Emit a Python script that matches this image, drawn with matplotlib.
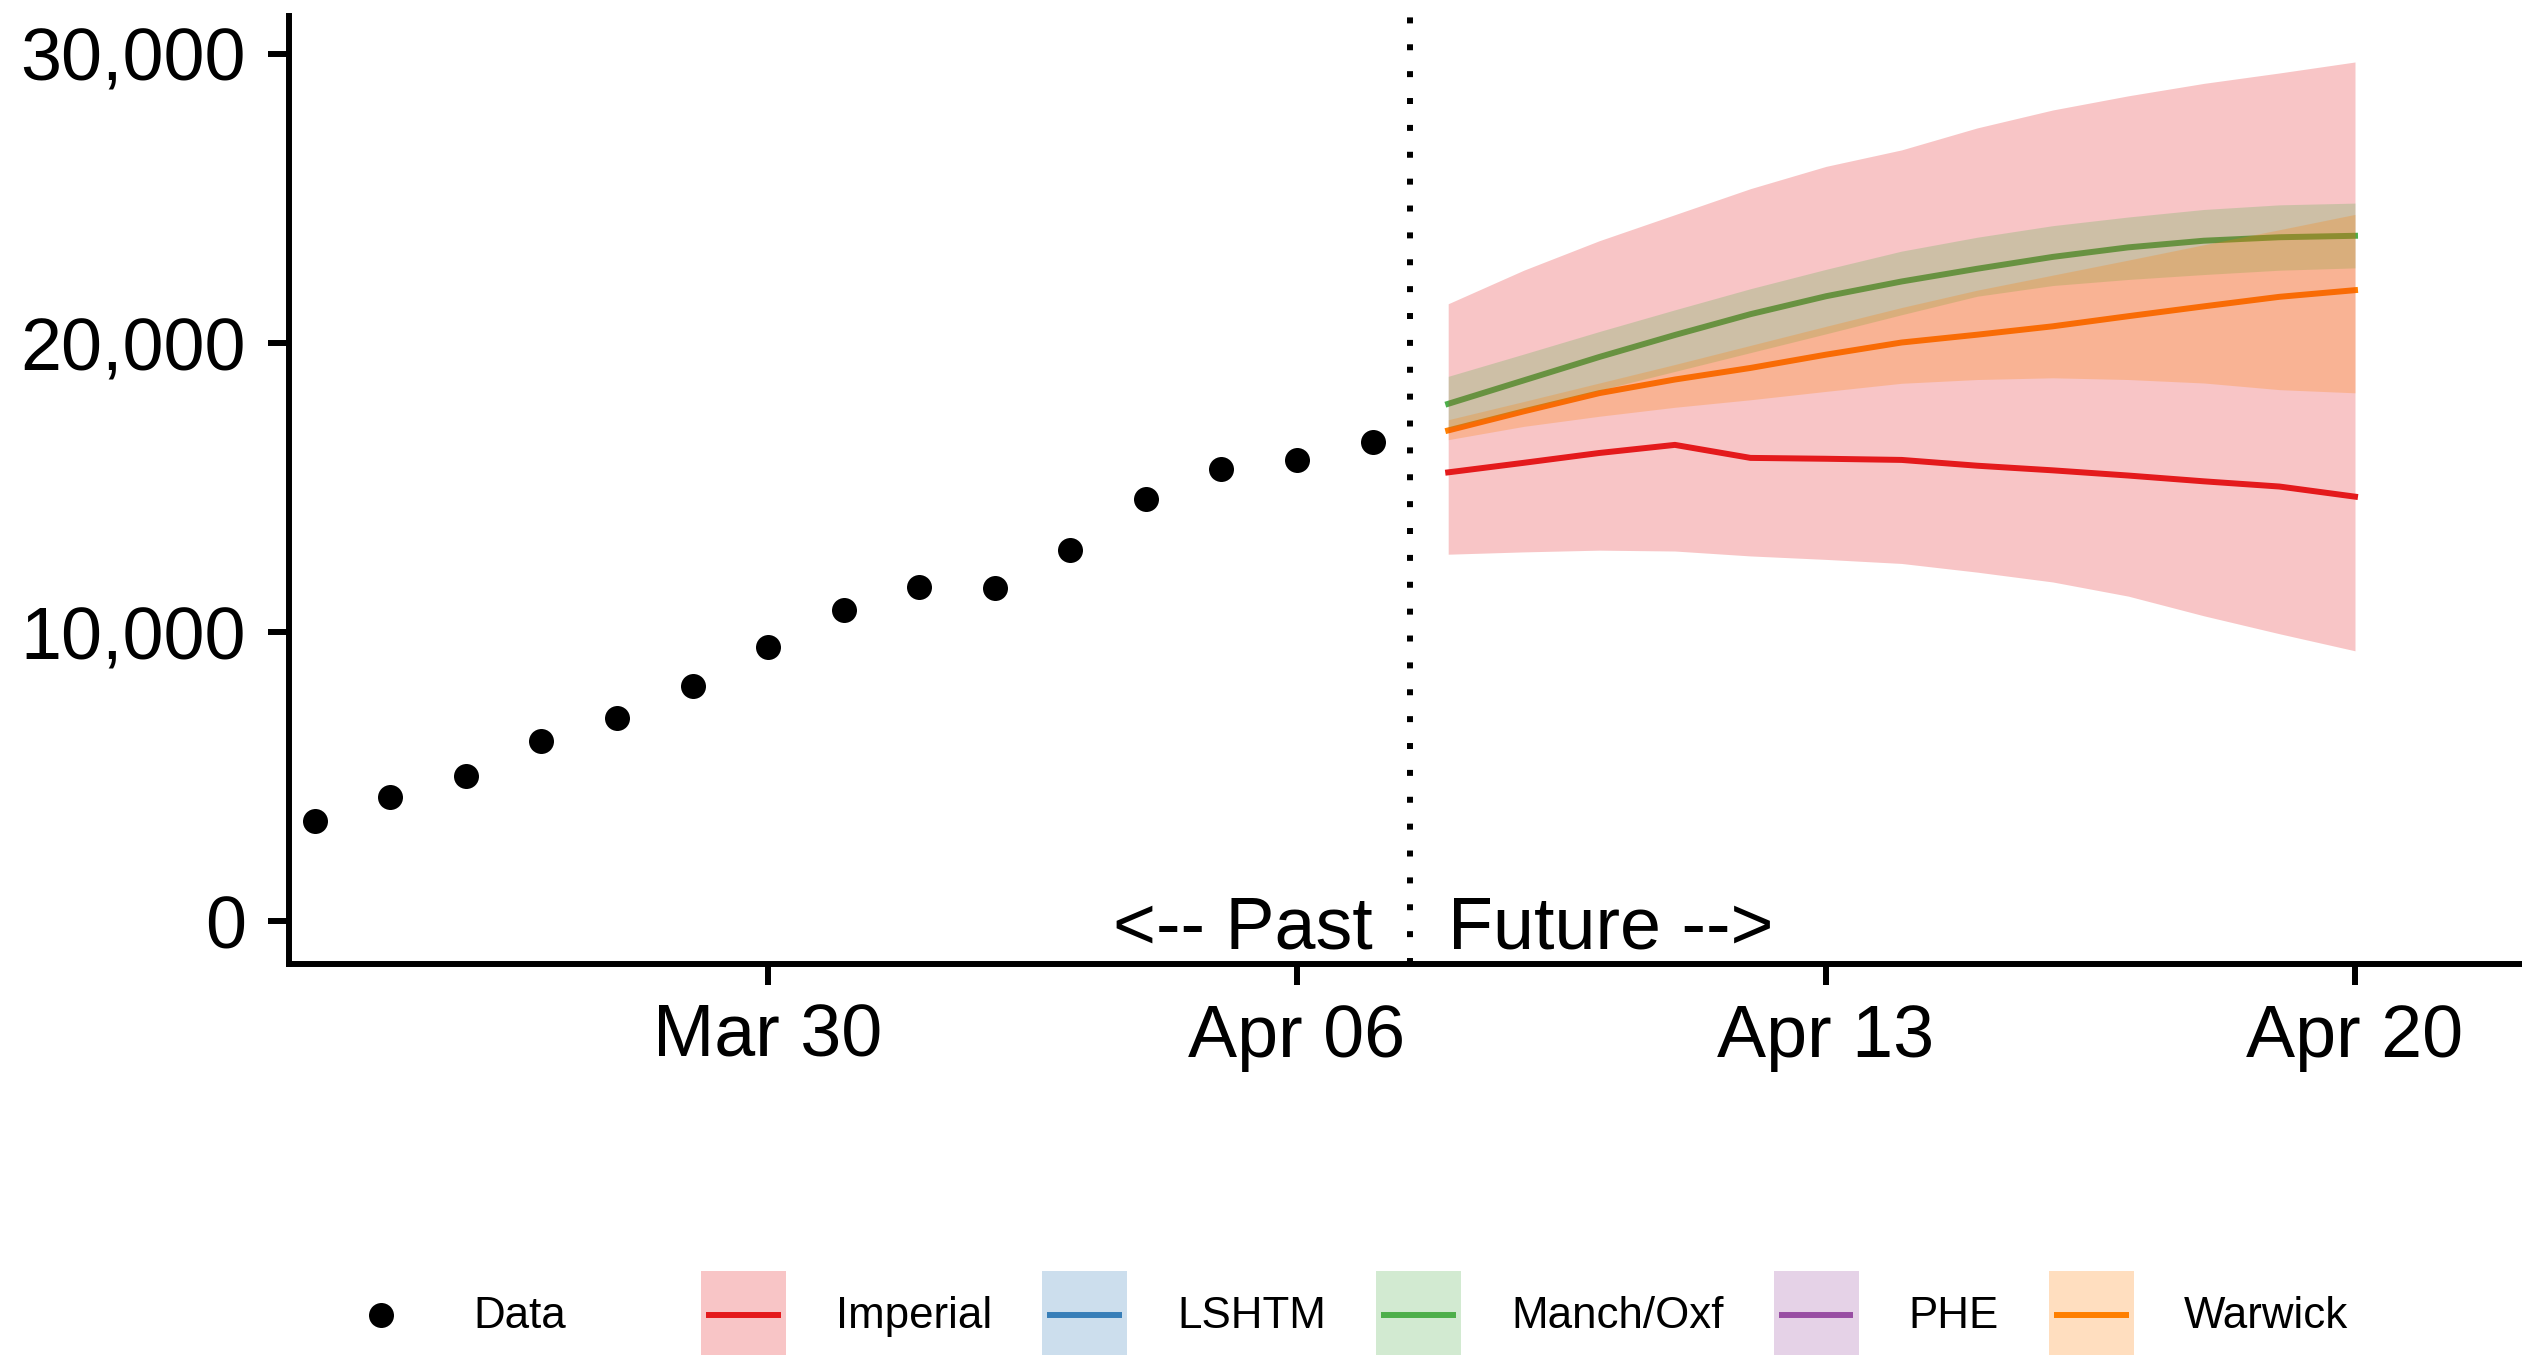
import datetime as dt

import matplotlib
matplotlib.use("Agg")
import matplotlib.pyplot as plt
import matplotlib.dates as mdates
from matplotlib.lines import Line2D
from matplotlib.patches import Rectangle
from matplotlib.legend_handler import HandlerBase
from matplotlib.ticker import StrMethodFormatter

plt.rcParams["font.family"] = ["Liberation Sans", "DejaVu Sans"]

# ---- observed daily counts -------------------------------------------------
obs_dates = ["2020-03-24", "2020-03-25", "2020-03-26", "2020-03-27", "2020-03-28",
             "2020-03-29", "2020-03-30", "2020-03-31", "2020-04-01", "2020-04-02",
             "2020-04-03", "2020-04-04", "2020-04-05", "2020-04-06", "2020-04-07"]
observed = [3480, 4300, 5040, 6240, 7020, 8140, 9490, 10780, 11570, 11530,
            12860, 14610, 15630, 15970, 16590]

# ---- model projections ----------------------------------------------------
fc_dates = ["2020-04-08", "2020-04-09", "2020-04-10", "2020-04-11", "2020-04-12",
            "2020-04-13", "2020-04-14", "2020-04-15", "2020-04-16", "2020-04-17",
            "2020-04-18", "2020-04-19", "2020-04-20"]

imperial_mid = [15530, 15860, 16200, 16480, 16030, 16000, 15960, 15760, 15600,
                15420, 15220, 15040, 14690]
imperial_lo = [12700, 12780, 12840, 12810, 12640, 12520, 12380, 12080, 11740,
               11250, 10570, 9950, 9360]
imperial_hi = [21360, 22520, 23540, 24440, 25340, 26110, 26680, 27440, 28060,
               28550, 28980, 29340, 29720]

manch_mid = [17900, 18710, 19520, 20280, 21000, 21620, 22130, 22570, 22980,
             23310, 23540, 23660, 23710]
manch_lo = [17070, 17720, 18370, 19020, 19670, 20320, 20980, 21620, 21990,
            22200, 22370, 22520, 22600]
manch_hi = [18850, 19620, 20400, 21150, 21880, 22550, 23180, 23660, 24060,
            24360, 24620, 24780, 24840]

warwick_mid = [16980, 17640, 18270, 18740, 19140, 19600, 20020, 20290, 20580,
               20930, 21270, 21600, 21830]
warwick_lo = [16660, 17120, 17470, 17780, 18040, 18330, 18610, 18740, 18800,
              18740, 18620, 18390, 18280]
warwick_hi = [17350, 17980, 18620, 19260, 19920, 20580, 21230, 21830, 22350,
              22870, 23400, 23920, 24450]

models = ["Imperial", "LSHTM", "Manch/Oxf", "PHE", "Warwick"]
model_colors = ["#E41A1C", "#377EB8", "#4DAF4A", "#984EA3", "#FF7F00"]
projections = {
    "Imperial": (imperial_mid, imperial_lo, imperial_hi),
    "Manch/Oxf": (manch_mid, manch_lo, manch_hi),
    "Warwick": (warwick_mid, warwick_lo, warwick_hi),
}

x_ticks = ["2020-03-30", "2020-04-06", "2020-04-13", "2020-04-20"]
y_ticks = [0, 10000, 20000, 30000]
last_observed = "2020-04-07"
first_projected = "2020-04-08"


def to_date(s):
    return dt.datetime.strptime(s, "%Y-%m-%d")


obs_x = [to_date(d) for d in obs_dates]
fc_x = [to_date(d) for d in fc_dates]

# ---- figure ----------------------------------------------------------------
W, H = 2522, 1355
fig = plt.figure(figsize=(W / 100, H / 100), dpi=100)
ax = fig.add_axes([289 / W, 1 - 964 / H, 1 - 289 / W, (964 - 16) / H])

LW = 4.3
TEXT = 53

# lines first, translucent ribbons over them
for name, col in zip(models, model_colors):
    if name in projections:
        mid, _, _ = projections[name]
        ax.plot(fc_x, mid, color=col, lw=LW, solid_joinstyle="round", zorder=2)
for name, col in zip(models, model_colors):
    if name in projections:
        _, lo, hi = projections[name]
        ax.fill_between(fc_x, lo, hi, color=col, alpha=0.25, linewidth=0, zorder=3)

ax.plot(obs_x, observed, "o", color="black", markersize=18, markeredgewidth=0, zorder=4)

t_last = mdates.date2num(to_date(last_observed))
t_first = mdates.date2num(to_date(first_projected))
split = (t_last + t_first) / 2
ax.axvline(split, color="black", lw=LW, linestyle=(0, (1, 3.5)), dash_capstyle="butt", zorder=5)

ax.text(to_date(last_observed), -930, "<-- Past", ha="right", va="baseline", fontsize=TEXT)
ax.text(to_date(first_projected), -930, "Future -->", ha="left", va="baseline", fontsize=TEXT)

ref = mdates.date2num(to_date(x_ticks[0]))
ax.set_xlim(ref - 6.34, ref + 23.21)
ax.set_ylim(-1470, 31310)

ax.set_xticks([to_date(d) for d in x_ticks])
ax.xaxis.set_major_formatter(mdates.DateFormatter("%b %d"))
ax.set_yticks(y_ticks)
ax.yaxis.set_major_formatter(StrMethodFormatter("{x:,.0f}"))

for side in ["top", "right"]:
    ax.spines[side].set_visible(False)
for side in ["left", "bottom"]:
    ax.spines[side].set_linewidth(LW)
ax.tick_params(axis="both", direction="out", length=15, width=LW, labelsize=TEXT,
               colors="black")
ax.tick_params(axis="y", pad=16)
ax.tick_params(axis="x", pad=13)
ax.set_facecolor("white")


# ---- legend keys -------------------------------------------------------------
class KeyHandler(HandlerBase):
    def create_artists(self, legend, orig_handle, xdescent, ydescent,
                       width, height, fontsize, trans):
        x0, y0 = -xdescent, -ydescent
        ym = y0 + height / 2
        col = orig_handle.get_color()
        if orig_handle.get_marker() == "o":
            dot = Line2D([x0 + width / 2], [ym], marker="o", color=col, linestyle="none",
                         markersize=orig_handle.get_markersize(), markeredgewidth=0,
                         transform=trans)
            return [dot]
        rect = Rectangle((x0, y0), width, height, facecolor=col, alpha=0.25,
                         edgecolor="none", transform=trans)
        inset = 0.06 * width
        ln = Line2D([x0 + inset, x0 + width - inset], [ym, ym], color=col,
                    lw=orig_handle.get_linewidth(), solid_capstyle="butt",
                    transform=trans)
        return [rect, ln]


LEG_FS = 31.6
leg_kw = dict(frameon=False, borderpad=0, borderaxespad=0, loc="center left",
              bbox_transform=fig.transFigure, fontsize=LEG_FS,
              handlelength=85 / (LEG_FS / 0.72), handleheight=2.68,
              handletextpad=50 / (LEG_FS / 0.72), columnspacing=50 / (LEG_FS / 0.72))

data_handle = Line2D([], [], marker="o", color="black", linestyle="none", markersize=18)
fig.legend([data_handle], ["Data"], handler_map={Line2D: KeyHandler()},
           bbox_to_anchor=(338.5 / W, 40 / H), **leg_kw)

model_handles = [Line2D([], [], color=c, lw=LW) for c in model_colors]
fig.legend(model_handles, models, handler_map={Line2D: KeyHandler()}, ncol=len(models),
           bbox_to_anchor=(701 / W, 40 / H), **leg_kw)

fig.savefig("out.png", dpi=100, facecolor="white")
